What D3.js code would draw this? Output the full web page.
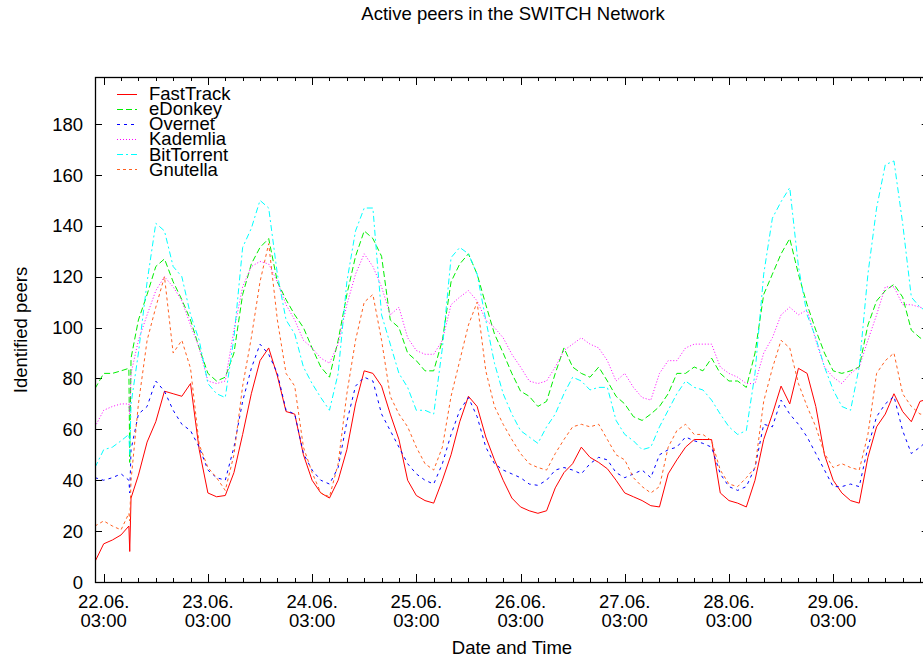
<!DOCTYPE html>
<html>
<head>
<meta charset="utf-8">
<script src="https://cdn.jsdelivr.net/npm/d3@7"></script>
<style>
body { margin: 0; background: #fff; }
svg { display: block; font-family: "Liberation Sans", Arial, sans-serif; }
</style>
</head>
<body>
<svg id="chart" width="923" height="660"></svg>
<script>
// sample times, hours after 22.06. 01:00 (short outage around 09:00 on the first day)
var hours = [].concat(d3.range(0, 8, 2), [7.8, 8, 8.3], d3.range(10, 193, 2));

var fastTrack = [8, 15, 16.5, 18.5, 22, 12, 33,
  42, 55, 63, 75, 74, 73, 78, 52, 35, 33.5, 34, 43, 58, 74, 87, 92, 81, 67, 66, 50, 40, 35, 33, 40, 52, 70, 83,
  82, 77, 66, 56, 40, 34, 32, 31, 40, 50, 63, 73, 69, 57, 48, 40, 33, 29.5, 28, 27, 28, 37, 43, 46.5, 53, 49, 47, 44.5, 40,
  35, 33.5, 32, 30, 29.5, 42.5, 48, 53, 56, 56, 56, 35, 32, 31, 29.5, 40, 56, 66, 77, 70, 84, 82, 69, 50, 40, 35, 32, 31,
  49, 61, 66, 74, 67, 63, 71, 72];
var eDonkey = [76, 82, 82, 83, 84, 47, 88,
  103, 113, 124, 127, 118, 111, 103, 92, 82, 79, 80.5, 90, 113, 125, 131.5, 135, 118, 111, 105, 100, 92, 84.5, 80.5, 95, 113, 128, 138,
  135, 128, 103, 100, 90, 87, 83, 83, 95, 118, 125, 129, 121, 109, 97.5, 90, 82, 75, 73, 69, 71, 82, 92, 84.5, 82, 80.5, 84.5, 79, 73,
  70, 65, 63.5, 66, 69, 74, 82, 82, 84.5, 83, 88, 82, 79, 79, 76.5, 90, 113, 121, 129, 135, 121, 109, 99, 90, 83, 82, 83, 84.5,
  101, 110.5, 114.5, 117, 112, 99, 96, 94];
var overnet = [41, 40, 41, 42.5, 40, 35, 52,
  66, 69, 79, 75, 67.5, 62, 59.5, 53, 44, 41, 40, 53, 71, 84, 93.5, 89.5, 82, 67.5, 66, 50.5, 44, 40, 38.5, 45, 63, 77, 80.5,
  79, 66, 59.5, 53, 46.5, 42.5, 40, 38.5, 46.5, 58, 67.5, 72.5, 65, 53, 46.5, 44, 42.5, 41, 38.5, 38, 40, 44, 45, 44, 42.5, 46.5, 49, 48, 43,
  41, 42.5, 44, 41, 50, 52, 53, 57, 55.5, 54.5, 53, 42.5, 37.5, 36, 37.5, 45, 62, 61, 71.5, 66, 62, 57, 50.5, 44, 37.5, 37.5, 38.5, 37.5,
  53, 65, 70, 73, 59.5, 50.5, 53, 56];
var kademlia = [61, 67.5, 69, 70, 70, 66, 82,
  95, 105, 114.5, 120, 116, 110.5, 101, 92, 79, 78, 79, 99, 116, 124, 126, 125, 118, 109, 103, 95, 92, 88, 86, 93.5, 109, 121, 129,
  124, 116, 105, 108, 96, 91, 89.5, 89.5, 95, 109, 112, 114.5, 110.5, 103, 100, 96, 89.5, 84.5, 79, 78, 79, 84.5, 91, 93.5, 96, 93.5, 92, 87, 79,
  82, 76.5, 72.5, 71.5, 82, 87, 87, 92, 93.5, 93.5, 93.5, 84.5, 82, 80.5, 78, 78, 90, 96, 105, 108, 105, 107, 95, 84.5, 80.5, 78, 82, 84.5,
  95, 105, 116, 116, 109, 109, 108, 107];
var bitTorrent = [45, 52, 53, 55.5, 58, 50, 70,
  90, 118, 141, 138, 124, 120, 105, 95, 78, 74, 72.5, 96, 131.5, 139, 150, 147, 121, 103, 97.5, 84.5, 78, 72.5, 67.5, 82, 118, 138, 147,
  147, 105, 93.5, 82, 76.5, 67.5, 67.5, 66, 92, 127.5, 131.5, 129, 121, 103, 86, 74, 66, 59.5, 57, 54.5, 61, 66, 74, 80.5, 79, 75.5, 76.5, 76.5, 63.5,
  58, 55.5, 52, 53, 61, 67.5, 74, 79, 76.5, 75.5, 71.5, 66, 61, 58, 59.5, 82, 121, 143, 149.5, 155, 124, 105, 96, 84.5, 75.5, 69, 67.5, 84.5,
  121, 147, 164, 165.5, 141, 112, 108, 106];
var gnutella = [22, 24, 22, 20.5, 27, 24, 40,
  70, 95, 108, 120, 90, 95, 84, 54, 45, 41, 36, 50, 77, 96, 118, 133, 103, 82, 77, 53, 43, 35, 33.5, 46.5, 74, 95, 110,
  113, 95, 73, 66, 61, 53, 46.5, 44, 53, 73, 87, 101, 110, 83, 69, 62, 56, 50.5, 46.5, 45, 44, 50.5, 56, 61, 62, 61, 62, 56, 50,
  48, 41, 37.5, 35, 37.5, 53, 59.5, 62, 58, 58, 55.5, 44, 38.5, 37.5, 41, 45, 71, 84, 95, 92, 78, 69, 61, 50.5, 45, 46.5, 45, 44,
  58, 82, 87, 90, 74, 69, 66, 66];

var seriesNames = ["FastTrack", "eDonkey", "Overnet", "Kademlia", "BitTorrent", "Gnutella"];
var seriesValues = [fastTrack, eDonkey, overnet, kademlia, bitTorrent, gnutella];
var seriesColors = ["#ff0000", "#00ee00", "#0000ff", "#ff00ff", "#00ffff", "#ff6020"];
var seriesDash = [null, "6,3", "3,4", "1,2", "6,3,2,3", "3,3"];

var yTicks = d3.range(0, 181, 20);

var startTime = Date.UTC(2005, 5, 22, 1);
var endTime = Date.UTC(2005, 5, 30, 1);

var svg = d3.select("#chart");
var pLeft = 95, pRight = 928.7, pTop = 77, pBottom = 582;
var fontSize = "18.5px";

var x = d3.scaleUtc()
    .domain([new Date(startTime), new Date(endTime)])
    .range([pLeft, pRight]);

var y = d3.scaleLinear()
    .domain([0, 198.5])
    .range([pBottom, pTop]);

svg.append("defs").append("clipPath").attr("id", "plotclip")
    .append("rect")
    .attr("x", pLeft).attr("y", pTop)
    .attr("width", pRight - pLeft).attr("height", pBottom - pTop);

// title and axis labels
svg.append("text")
    .attr("x", 513).attr("y", 20)
    .attr("text-anchor", "middle")
    .style("font-size", fontSize)
    .text("Active peers in the SWITCH Network");

svg.append("text")
    .attr("x", 512).attr("y", 654)
    .attr("text-anchor", "middle")
    .style("font-size", fontSize)
    .text("Date and Time");

svg.append("text")
    .attr("transform", "translate(27,330) rotate(-90)")
    .attr("text-anchor", "middle")
    .style("font-size", fontSize)
    .text("Identified peers");

// x ticks: major at 03:00, minor every 4 hours
var allTicks = d3.utcHour.range(new Date(Date.UTC(2005, 5, 21, 23)), new Date(endTime), 4)
    .filter(function(d) { return d >= startTime && d <= endTime; });
var majorTicks = allTicks.filter(function(d) { return d.getUTCHours() === 3; });

var tickG = svg.append("g").attr("stroke", "#000").attr("stroke-width", 1);

allTicks.forEach(function(d) {
    var len = d.getUTCHours() === 3 ? 8 : 4;
    var px = Math.round(x(d)) + 0.5;
    tickG.append("line").attr("x1", px).attr("x2", px).attr("y1", pBottom).attr("y2", pBottom - len);
    tickG.append("line").attr("x1", px).attr("x2", px).attr("y1", pTop).attr("y2", pTop + len);
});

yTicks.forEach(function(v) {
    var py = Math.round(y(v)) + 0.5;
    tickG.append("line").attr("x1", pLeft).attr("x2", pLeft + 7).attr("y1", py).attr("y2", py);
    tickG.append("line").attr("x1", pRight).attr("x2", pRight - 7).attr("y1", py).attr("y2", py);
});

var fmtDay = d3.utcFormat("%d.%m.");
var fmtTime = d3.utcFormat("%H:%M");

var xl = svg.append("g").style("font-size", fontSize).attr("text-anchor", "middle");
majorTicks.forEach(function(d) {
    xl.append("text").attr("x", x(d)).attr("y", 608).text(fmtDay(d));
    xl.append("text").attr("x", x(d)).attr("y", 627).text(fmtTime(d));
});

var yl = svg.append("g").style("font-size", fontSize).attr("text-anchor", "end");
yTicks.forEach(function(v) {
    yl.append("text").attr("x", 83).attr("y", y(v)).attr("dy", "0.36em").text(v);
});

// series
var line = d3.line()
    .x(function(d) { return x(new Date(startTime + d[0] * 3600e3)); })
    .y(function(d) { return y(d[1]); });

var plot = svg.append("g").attr("clip-path", "url(#plotclip)");
seriesValues.forEach(function(vals, i) {
    var pts = hours.map(function(h, j) { return [h, vals[j]]; });
    plot.append("path")
        .datum(pts)
        .attr("d", line)
        .attr("fill", "none")
        .attr("stroke", seriesColors[i])
        .attr("stroke-width", 1)
        .attr("stroke-dasharray", seriesDash[i]);
});

// frame
svg.append("rect")
    .attr("x", pLeft + 0.5).attr("y", pTop + 0.5)
    .attr("width", pRight - pLeft).attr("height", pBottom - pTop)
    .attr("fill", "none").attr("stroke", "#000").attr("stroke-width", 1.3);

// legend
var legend = svg.append("g").style("font-size", fontSize);
seriesNames.forEach(function(name, i) {
    var ly = 93.5 + i * 15.1;
    legend.append("line")
        .attr("x1", 117).attr("x2", 137)
        .attr("y1", Math.round(ly) + 0.5).attr("y2", Math.round(ly) + 0.5)
        .attr("stroke", seriesColors[i])
        .attr("stroke-width", 1)
        .attr("stroke-dasharray", seriesDash[i]);
    legend.append("text")
        .attr("x", 149).attr("y", ly).attr("dy", "0.36em")
        .text(name);
});
</script>
</body>
</html>
